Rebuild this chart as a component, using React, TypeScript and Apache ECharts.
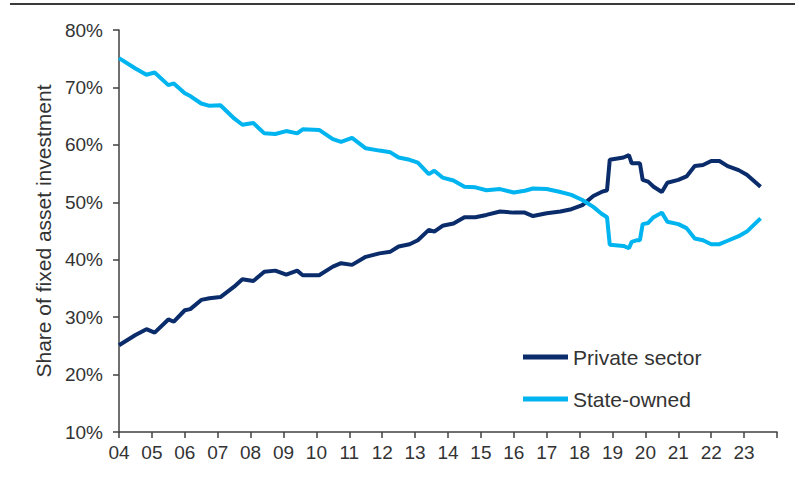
import React, { useEffect, useRef } from "react";
import * as echarts from "echarts";

const months = [
  "2004-01", "2004-07", "2004-11", "2005-02", "2005-07", "2005-09", "2006-01", "2006-03",
  "2006-07", "2006-10", "2007-02", "2007-07", "2007-10", "2008-02", "2008-06", "2008-10",
  "2009-02", "2009-06", "2009-08", "2010-02", "2010-07", "2010-10", "2011-02", "2011-07",
  "2011-12", "2012-04", "2012-07", "2012-11", "2013-02", "2013-06", "2013-08", "2013-11",
  "2014-03", "2014-07", "2014-11", "2015-03", "2015-08", "2016-01", "2016-05", "2016-08",
  "2017-01", "2017-06", "2017-10", "2018-02", "2018-06", "2018-09", "2018-11", "2018-12",
  "2019-05", "2019-07", "2019-08", "2019-10", "2019-11", "2019-12", "2020-02", "2020-04",
  "2020-07", "2020-09", "2021-01", "2021-04", "2021-07", "2021-10", "2022-01", "2022-04",
  "2022-07", "2022-11", "2023-02", "2023-07",
];

const privateSector = [
  25.1, 26.9, 27.9, 27.3, 29.6, 29.2, 31.2, 31.4,
  33.0, 33.3, 33.5, 35.3, 36.6, 36.3, 37.9, 38.1,
  37.4, 38.1, 37.3, 37.3, 38.8, 39.4, 39.1, 40.5,
  41.1, 41.4, 42.3, 42.7, 43.4, 45.2, 44.9, 45.9,
  46.3, 47.4, 47.4, 47.8, 48.4, 48.2, 48.2, 47.6,
  48.1, 48.4, 48.8, 49.5, 51.1, 51.8, 52.1, 57.4,
  57.8, 58.2, 56.8, 56.8, 56.8, 53.9, 53.6, 52.7,
  51.8, 53.4, 53.9, 54.5, 56.3, 56.5, 57.2, 57.2,
  56.3, 55.6, 54.8, 52.7,
];

const stateOwned = [
  75.1, 73.3, 72.2, 72.6, 70.4, 70.7, 69.0, 68.5,
  67.2, 66.8, 66.9, 64.6, 63.5, 63.8, 62.0, 61.9,
  62.4, 62.0, 62.7, 62.6, 61.0, 60.5, 61.2, 59.4,
  59.0, 58.7, 57.8, 57.4, 56.9, 54.9, 55.5, 54.3,
  53.8, 52.7, 52.6, 52.1, 52.3, 51.7, 52.0, 52.4,
  52.3, 51.8, 51.3, 50.4, 49.2, 48.0, 47.4, 42.6,
  42.4, 42.0, 43.1, 43.4, 43.4, 46.2, 46.4, 47.4,
  48.2, 46.6, 46.2, 45.5, 43.7, 43.4, 42.7, 42.7,
  43.3, 44.1, 44.9, 47.2,
];

const seriesNames = ["Private sector", "State-owned"];
const yAxisTitle = "Share of fixed asset investment";

const toYear = (m: string) => {
  const [y, mo] = m.split("-").map(Number);
  return y + (mo - 1) / 12;
};

const FONT = "'Liberation Sans', Arial, sans-serif";
const TEXT = "#333333";
const AXIS = "#404040";

export default function App() {
  const ref = useRef<HTMLDivElement>(null);
  useEffect(() => {
    if (!ref.current) return;
    const chart = echarts.init(ref.current, undefined, { renderer: "svg" });
    chart.setOption({
      animation: false,
      textStyle: { fontFamily: FONT },
      grid: { left: 119, right: 18, top: 30, bottom: 55 },
      graphic: [
        {
          type: "line",
          shape: { x1: 10, y1: 4, x2: 795, y2: 4 },
          style: { stroke: "#3a3a3a", lineWidth: 2 },
        },
      ],
      legend: {
        data: seriesNames,
        orient: "vertical",
        left: 518,
        top: 341,
        itemWidth: 45,
        itemHeight: 5,
        itemGap: 20,
        icon: "rect",
        textStyle: { fontSize: 21, color: TEXT, fontFamily: FONT, lineHeight: 22 },
      },
      xAxis: {
        type: "value",
        min: 2004,
        max: 2024,
        interval: 1,
        splitLine: { show: false },
        axisLine: { show: true, onZero: false, lineStyle: { color: AXIS, width: 1.5 } },
        axisTick: { show: true, length: 6, lineStyle: { color: AXIS, width: 1.5 } },
        axisLabel: {
          margin: 11,
          fontSize: 19,
          color: TEXT,
          fontFamily: FONT,
          formatter: (v: number) => (v >= 2024 ? "" : String(v).slice(2)),
        },
      },
      yAxis: {
        type: "value",
        min: 10,
        max: 80,
        interval: 10,
        name: yAxisTitle,
        nameLocation: "middle",
        nameGap: 62,
        nameTextStyle: { fontSize: 21, color: TEXT, fontFamily: FONT },
        splitLine: { show: false },
        axisLine: { show: true, lineStyle: { color: AXIS, width: 1.5 } },
        axisTick: { show: true, length: 6, lineStyle: { color: AXIS, width: 1.5 } },
        axisLabel: {
          margin: 16,
          fontSize: 19,
          color: TEXT,
          fontFamily: FONT,
          formatter: "{value}%",
        },
      },
      series: [
        {
          name: seriesNames[0],
          type: "line",
          showSymbol: false,
          symbol: "none",
          color: "#0b2c6b",
          lineStyle: { width: 4, color: "#0b2c6b" },
          data: months.map((m, i) => [toYear(m), privateSector[i]]),
        },
        {
          name: seriesNames[1],
          type: "line",
          showSymbol: false,
          symbol: "none",
          color: "#00b4f0",
          lineStyle: { width: 4, color: "#00b4f0" },
          data: months.map((m, i) => [toYear(m), stateOwned[i]]),
        },
      ],
    });
    return () => chart.dispose();
  }, []);
  return (
    <div
      ref={ref}
      style={{ position: "fixed", left: 0, top: 0, width: 795, height: 487, background: "#fff" }}
    />
  );
}
